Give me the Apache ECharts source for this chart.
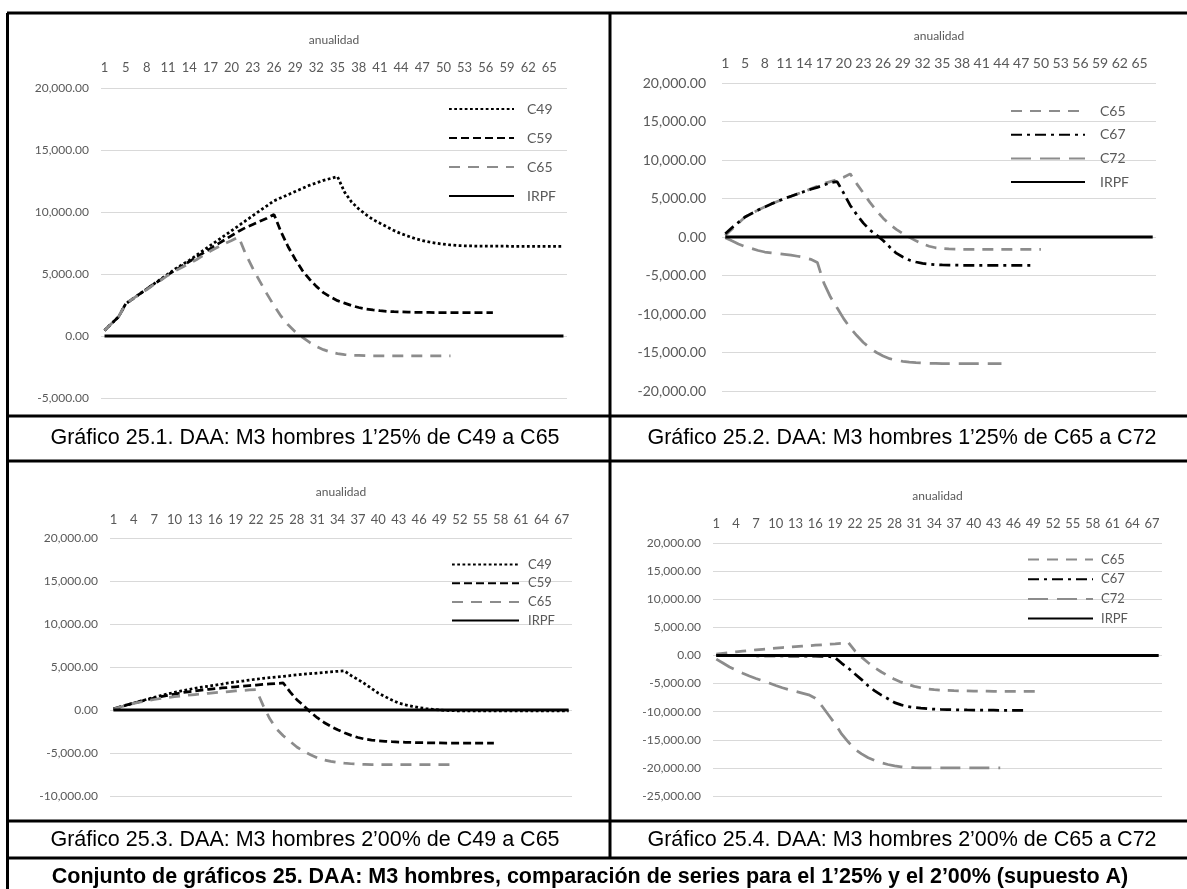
<!DOCTYPE html>
<html>
<head>
<meta charset="utf-8">
<script src="https://cdn.jsdelivr.net/npm/echarts@6/dist/echarts.min.js"></script>
<style>
  html, body { margin: 0; padding: 0; background: #fff; }
  #chart { width: 1187px; height: 889px; }
</style>
</head>
<body>
<div id="chart"></div>
<script>
// Annuity index for the 1'25% charts (top row) and the 2'00% charts (bottom row)
const yearsTop = [1,2,3,5,6,7,8,9,10,11,12,13,14,15,16,17,18,19,20,21,22,23,24,25,26,27,28,29,30,31,32,33,34,35,36,37,38,39,40,41,42,43,44,45,46,47,48,49,50,51,52,53,54,55,56,57,58,59,60,61,62,63,64,65,66,67];
const yearsBottom = [1,2,3,4,5,6,7,8,9,10,11,12,13,14,15,16,17,18,19,20,21,22,23,24,25,26,27,28,29,30,31,32,33,34,35,36,37,38,39,40,41,42,43,44,45,46,47,48,49,50,51,52,53,54,55,56,57,58,59,60,61,62,63,64,65,66,67,68];

// Gráfico 25.1 (1'25%, C49 a C65)
const c49_125 = [450,1000,1550,2600,3000,3400,3800,4200,4600,5000,
  5400,5750,6100,6500,6900,7300,7700,8100,8500,8900,
  9300,9700,10100,10500,10900,11150,11400,11650,11900,12150,
  12350,12550,12700,12850,11600,10800,10250,9800,9400,9100,
  8800,8500,8250,8050,7850,7700,7580,7480,7400,7340,
  7290,7270,7260,7250,7250,7240,7240,7240,7230,7230,
  7230,7230,7230,7230,7230,7230];
const c59_125 = [450,1000,1550,2600,3000,3400,3800,4200,4550,4950,
  5300,5650,6000,6350,6700,7050,7400,7750,8100,8450,
  8750,9000,9250,9500,9800,8400,7200,6200,5300,4600,
  4000,3500,3150,2850,2650,2450,2300,2180,2100,2040,
  1990,1960,1940,1920,1910,1900,1900,1890,1890,1890,
  1890,1880,1880,1880,1880,1880];
const c65_125a = [450,1000,1550,2600,3000,3400,3750,4150,4500,4900,
  5250,5550,5850,6150,6500,6850,7150,7450,7700,7980,
  6600,5450,4400,3400,2450,1600,900,350,-100,-500,
  -850,-1100,-1300,-1420,-1500,-1550,-1570,-1590,-1600,-1600,
  -1610,-1610,-1610,-1610,-1610,-1610,-1610,-1610,-1610,-1610];
const irpfTop = [0,0,0,0,0,0,0,0,0,0,0,0,0,0,0,0,0,0,0,0,0,0,0,0,0,0,0,0,0,0,0,0,0,0,0,0,0,0,0,0,0,0,0,0,0,0,0,0,0,0,0,0,0,0,0,0,0,0,0,0,0,0,0,0,0,0];

// Gráfico 25.2 (1'25%, C65 a C72)
const c65_125b = [200,1000,1800,2600,3050,3500,3900,4300,4650,5000,
  5300,5600,5900,6250,6600,6950,7200,7450,7750,8200,
  6900,5700,4500,3400,2450,1650,1000,450,-50,-500,
  -900,-1200,-1400,-1500,-1550,-1580,-1590,-1600,-1600,-1600,
  -1600,-1600,-1600,-1600,-1600,-1600,-1600,-1600,-1600];
const c67_125 = [430,1200,1900,2600,3050,3500,3900,4300,4650,5000,
  5300,5600,5900,6200,6450,6750,7050,7200,5700,4100,
  2900,1800,900,250,-450,-1300,-2100,-2600,-3000,-3250,
  -3420,-3530,-3600,-3630,-3650,-3660,-3670,-3680,-3680,-3680,
  -3680,-3680,-3680,-3680,-3680,-3680,-3680,-3680];
const c72_125 = [-90,-500,-900,-1250,-1500,-1750,-1950,-2050,-2150,-2250,
  -2350,-2500,-2650,-2900,-3300,-6000,-7800,-9200,-10600,-11800,
  -12800,-13700,-14400,-15000,-15450,-15800,-16000,-16150,-16250,-16320,
  -16370,-16400,-16420,-16450,-16450,-16450,-16450,-16450,-16450,-16450,
  -16450,-16450,-16450];

// Gráfico 25.3 (2'00%, C49 a C65)
const c49_200 = [120,350,580,810,1030,1250,1470,1680,1880,2050,
  2220,2380,2530,2650,2770,2900,3020,3150,3260,3370,
  3480,3580,3680,3760,3840,3920,4000,4080,4160,4230,
  4300,4370,4430,4500,4550,4000,3550,3050,2500,1950,
  1550,1150,800,600,430,280,160,70,0,-50,
  -80,-100,-100,-100,-100,-100,-100,-100,-100,-100,
  -100,-100,-100,-100,-100,-100,-100,-100];
const c59_200 = [150,380,600,800,1000,1200,1380,1550,1700,1850,
  2000,2120,2230,2320,2400,2480,2560,2630,2700,2770,
  2840,2900,2970,3030,3090,3140,2100,1200,500,-250,
  -900,-1450,-1900,-2300,-2650,-2950,-3200,-3380,-3500,-3580,
  -3640,-3690,-3730,-3760,-3780,-3800,-3810,-3820,-3830,-3840,
  -3840,-3840,-3840,-3840,-3840,-3840,-3840];
const c65_200a = [120,350,560,760,930,1080,1220,1340,1450,1550,
  1640,1720,1800,1870,1940,2010,2080,2150,2210,2270,
  2330,2380,600,-1000,-2200,-3000,-3650,-4300,-4800,-5200,
  -5550,-5800,-5980,-6100,-6180,-6250,-6300,-6330,-6360,-6360,
  -6360,-6360,-6360,-6360,-6360,-6360,-6360,-6360,-6360,-6360,
  -6360];
const irpfBottom = [0,0,0,0,0,0,0,0,0,0,0,0,0,0,0,0,0,0,0,0,0,0,0,0,0,0,0,0,0,0,0,0,0,0,0,0,0,0,0,0,0,0,0,0,0,0,0,0,0,0,0,0,0,0,0,0,0,0,0,0,0,0,0,0,0,0,0,0];

// Gráfico 25.4 (2'00%, C65 a C72)
const c65_200b = [240,380,510,640,770,890,1000,1100,1200,1300,
  1400,1490,1580,1660,1740,1820,1900,1980,2060,2150,
  2300,800,-300,-1300,-2200,-2950,-3600,-4250,-4750,-5150,
  -5500,-5750,-5950,-6080,-6170,-6230,-6270,-6300,-6320,-6340,
  -6350,-6360,-6370,-6380,-6390,-6390,-6390,-6390,-6390,-6390];
const c67_200 = [0,-20,-30,-40,-50,-50,-60,-70,-80,-80,
  -90,-100,-110,-120,-130,-140,-150,-180,-400,-1400,
  -2250,-3300,-4300,-5400,-6300,-7050,-7700,-8400,-8800,-9100,
  -9270,-9380,-9480,-9550,-9600,-9630,-9660,-9680,-9700,-9710,
  -9720,-9730,-9740,-9750,-9760,-9760,-9760,-9760];
const c72_200 = [-650,-1350,-2050,-2600,-3150,-3650,-4100,-4500,-4900,-5350,
  -5750,-6100,-6400,-6700,-7000,-7600,-9000,-10600,-12200,-14000,
  -15400,-16700,-17500,-18200,-18700,-19100,-19400,-19650,-19800,-19900,
  -19960,-20000,-20000,-20000,-20000,-20000,-20000,-20000,-20000,-20000,
  -20000,-20000,-20000,-20000];

const captions = [
  'Gráfico 25.1. DAA: M3 hombres 1’25% de C49 a C65',
  'Gráfico 25.2. DAA: M3 hombres 1’25% de C65 a C72',
  'Gráfico 25.3. DAA: M3 hombres 2’00% de C49 a C65',
  'Gráfico 25.4. DAA: M3 hombres 2’00% de C65 a C72'
];
const mainTitle = 'Conjunto de gráficos 25. DAA: M3 hombres, comparación de series para el 1’25% y el 2’00% (supuesto A)';

const AX = '"Lato", "Open Sans", sans-serif';
const GRAY = '#8c8c8c';
const styles = {
  C49:  { color: '#000', type: [2.75, 2.5], width: 2.75 },
  C59:  { color: '#000', type: [8, 4], width: 2.75 },
  C65:  { color: GRAY, type: [11, 8], width: 2.75 },
  C67:  { color: '#000', type: [11, 5, 3, 5], width: 2.75 },
  C72:  { color: GRAY, type: [20, 9], width: 2.75 },
  IRPF: { color: '#000', type: 'solid', width: 3 }
};

const fmt = v => v.toLocaleString('en-US', { minimumFractionDigits: 2, maximumFractionDigits: 2 });

// panel layout: grid box, label sizes, axis range
const panels = [
  { grid: { left: 101, top: 88, width: 466, height: 310 }, cats: yearsTop, min: -5000, max: 20000,
    yFont: 12, xFont: 13, labelMargin: 14, nameGap: 42, yMargin: 12 },
  { grid: { left: 722, top: 83, width: 434, height: 308 }, cats: yearsTop, min: -20000, max: 20000,
    yFont: 14, xFont: 14, labelMargin: 13, nameGap: 41, yMargin: 16 },
  { grid: { left: 110, top: 538, width: 462, height: 258 }, cats: yearsBottom, min: -10000, max: 20000,
    yFont: 12, xFont: 13, labelMargin: 12, nameGap: 40, yMargin: 12 },
  { grid: { left: 713, top: 543, width: 449, height: 253 }, cats: yearsBottom, min: -25000, max: 20000,
    yFont: 12, xFont: 13, labelMargin: 13, nameGap: 41, yMargin: 12 }
];

const seriesSets = [
  [['C49', c49_125], ['C59', c59_125], ['C65', c65_125a], ['IRPF', irpfTop]],
  [['C65', c65_125b], ['C67', c67_125], ['C72', c72_125], ['IRPF', irpfTop]],
  [['C49', c49_200], ['C59', c59_200], ['C65', c65_200a], ['IRPF', irpfBottom]],
  [['C65', c65_200b], ['C67', c67_200], ['C72', c72_200], ['IRPF', irpfBottom]]
];

const legends = [
  { left: 448, top: 102, itemWidth: 65, itemHeight: 14, itemGap: 15, fontSize: 14, pad: 8 },
  { left: 1010, top: 104, itemWidth: 74, itemHeight: 14, itemGap: 9.7, fontSize: 14, pad: 10 },
  { left: 451, top: 558, itemWidth: 67, itemHeight: 12, itemGap: 5.7, fontSize: 13, pad: 4 },
  { left: 1027, top: 553, itemWidth: 65, itemHeight: 12, itemGap: 6.7, fontSize: 13, pad: 3 }
];

const option = {
  animation: false,
  backgroundColor: '#fff',
  grid: panels.map(p => Object.assign({ containLabel: false }, p.grid)),
  xAxis: panels.map((p, i) => ({
    gridIndex: i, type: 'category', data: p.cats, position: 'top', boundaryGap: true,
    name: 'anualidad', nameLocation: 'middle', nameGap: p.nameGap,
    nameTextStyle: { color: '#595959', fontFamily: AX, fontSize: 12 },
    axisLine: { show: false, onZero: false }, axisTick: { show: false },
    axisLabel: { interval: 2, color: '#595959', fontFamily: AX, fontSize: p.xFont, margin: p.labelMargin },
    splitLine: { show: false }
  })),
  yAxis: panels.map((p, i) => ({
    gridIndex: i, type: 'value', min: p.min, max: p.max, interval: 5000,
    axisLine: { show: false }, axisTick: { show: false },
    axisLabel: { color: '#595959', fontFamily: AX, fontSize: p.yFont, margin: p.yMargin, formatter: fmt },
    splitLine: { lineStyle: { color: '#d9d9d9', width: 1 } }
  })),
  legend: legends.map((l, i) => ({
    orient: 'vertical', left: l.left, top: l.top, padding: 0,
    itemWidth: l.itemWidth, itemHeight: l.itemHeight, itemGap: l.itemGap,
    data: seriesSets[i].map(s => s[0]),
    itemStyle: { opacity: 0 },
    textStyle: { color: '#595959', fontFamily: AX, fontSize: l.fontSize, padding: [0, 0, 0, l.pad] },
    selectedMode: false
  })),
  series: [],
  graphic: []
};

seriesSets.forEach((set, i) => {
  set.forEach(([name, data]) => {
    const st = styles[name];
    option.series.push({
      name, type: 'line', xAxisIndex: i, yAxisIndex: i, data,
      symbol: 'none', smooth: false, silent: true,
      itemStyle: { color: st.color },
      lineStyle: { color: st.color, type: st.type, width: st.width, cap: 'butt' }
    });
  });
});

// table frame
const B = '#000';
const frameLines = [
  [7, 13, 1187, 13], [7.5, 13, 7.5, 889], [610, 13, 610, 858],
  [7, 416, 1187, 416], [7, 461, 1187, 461], [7, 821, 1187, 821], [7, 858, 1187, 858]
];
frameLines.forEach(([x1, y1, x2, y2]) => {
  option.graphic.push({ type: 'line', shape: { x1, y1, x2, y2 }, style: { stroke: B, lineWidth: 3 }, z: 100 });
});
const capPos = [[305, 438], [902, 438], [305, 840], [902, 840]];
captions.forEach((t, i) => {
  option.graphic.push({ type: 'text', x: capPos[i][0], y: capPos[i][1],
    style: { text: t, align: 'center', verticalAlign: 'middle', fill: '#000',
      font: '21.5px "Liberation Sans", Arial, sans-serif' }, z: 100 });
});
option.graphic.push({ type: 'text', x: 590, y: 877,
  style: { text: mainTitle, align: 'center', verticalAlign: 'middle', fill: '#000',
    font: 'bold 21.5px "Liberation Sans", Arial, sans-serif' }, z: 100 });

const chart = echarts.init(document.getElementById('chart'), null, { renderer: 'canvas' });
chart.setOption(option);
</script>
</body>
</html>
